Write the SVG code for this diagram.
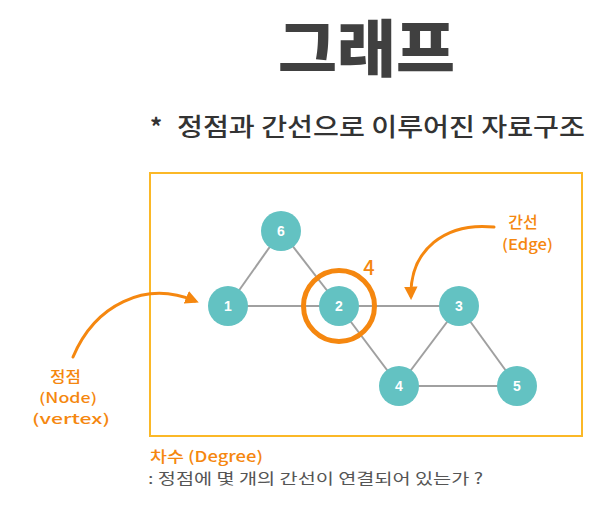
<svg xmlns="http://www.w3.org/2000/svg" width="610" height="518" viewBox="0 0 610 518">
<style>
.edge{stroke:#a0a0a0;stroke-width:2;fill:none}
.node circle{fill:#63c2c2}
.node text{fill:#fff;font-family:"Liberation Sans",Arial,sans-serif;font-weight:bold;font-size:14px;text-anchor:middle}
.ann{fill:#f5870f;font-family:"Noto Sans CJK KR","Noto Sans",sans-serif;font-size:14px;font-weight:500}
.arrow{stroke:#f5870f;stroke-width:3;fill:none;stroke-linecap:round}
</style>
<defs>
<marker id="ah" viewBox="0 0 10 10" refX="7" refY="5" markerWidth="4.5" markerHeight="4.5" orient="auto">
<path d="M0,0 L10,5 L0,10 Z" fill="#f5870f"/>
</marker>
</defs>
<rect width="610" height="518" fill="#fff"/>
<text x="278" y="72" textLength="177" lengthAdjust="spacingAndGlyphs" font-family="Noto Sans CJK KR,sans-serif" font-weight="900" font-size="62" fill="#404040">그래프</text>
<text x="150" y="136" font-family="Noto Sans CJK KR,sans-serif" font-weight="700" font-size="24" fill="#333">*</text>
<text x="177" y="136" textLength="408" lengthAdjust="spacingAndGlyphs" font-family="Noto Sans CJK KR,sans-serif" font-weight="500" font-size="25" fill="#333">정점과 간선으로 이루어진 자료구조</text>
<rect x="150" y="173" width="432" height="263" fill="none" stroke="#fbb827" stroke-width="2"/>
<g id="connectors">
<line class="edge" x1="281" y1="231" x2="228" y2="306"/>
<line class="edge" x1="281" y1="231" x2="339" y2="306"/>
<line class="edge" x1="228" y1="306" x2="339" y2="306"/>
<line class="edge" x1="339" y1="306" x2="459" y2="306"/>
<line class="edge" x1="339" y1="306" x2="399" y2="386"/>
<line class="edge" x1="459" y1="306" x2="399" y2="386"/>
<line class="edge" x1="459" y1="306" x2="517" y2="386"/>
<line class="edge" x1="399" y1="386" x2="517" y2="386"/>
<path class="arrow" d="M73,357 C95,305 145,280 195,301" marker-end="url(#ah)"/>
<path class="arrow" d="M494,227 C445,222 410,250 411,296" marker-end="url(#ah)"/>
</g>
<g id="node6" class="node"><circle cx="281" cy="231" r="20"/><text x="281" y="236">6</text></g>
<g id="node1" class="node"><circle cx="228" cy="306" r="20"/><text x="228" y="311">1</text></g>
<g id="node2" class="node"><circle cx="339" cy="306" r="20"/><text x="339" y="311">2</text></g>
<g id="node3" class="node"><circle cx="459" cy="306" r="20"/><text x="459" y="311">3</text></g>
<g id="node4" class="node"><circle cx="399" cy="386" r="20"/><text x="399" y="391">4</text></g>
<g id="node5" class="node"><circle cx="517" cy="386" r="20"/><text x="517" y="391">5</text></g>
<g id="degree-ring">
<circle cx="339" cy="306" r="35.5" fill="none" stroke="#f5870f" stroke-width="5"/>
<text class="ann" x="369" y="275" text-anchor="middle" style="font-size:20px">4</text>
</g>
<g id="edge-label">
<text class="ann" x="523" y="228" text-anchor="middle" style="font-size:16px">간선</text>
<text class="ann" x="502" y="250" textLength="51" lengthAdjust="spacingAndGlyphs" style="font-size:15px">(Edge)</text>
</g>
<g id="node-label">
<text class="ann" x="50" y="382" textLength="31" lengthAdjust="spacingAndGlyphs" style="font-size:15px">정점</text>
<text class="ann" x="39" y="403" textLength="58" lengthAdjust="spacingAndGlyphs">(Node)</text>
<text class="ann" x="32" y="424" textLength="78" lengthAdjust="spacingAndGlyphs">(vertex)</text>
</g>
<text class="ann" x="150" y="462" textLength="113" lengthAdjust="spacingAndGlyphs" style="font-size:15px">차수 (Degree)</text>
<text x="148" y="484" textLength="335" lengthAdjust="spacingAndGlyphs" font-family="Noto Sans CJK KR,sans-serif" font-size="15" fill="#555">: 정점에 몇 개의 간선이 연결되어 있는가 ?</text>
</svg>
